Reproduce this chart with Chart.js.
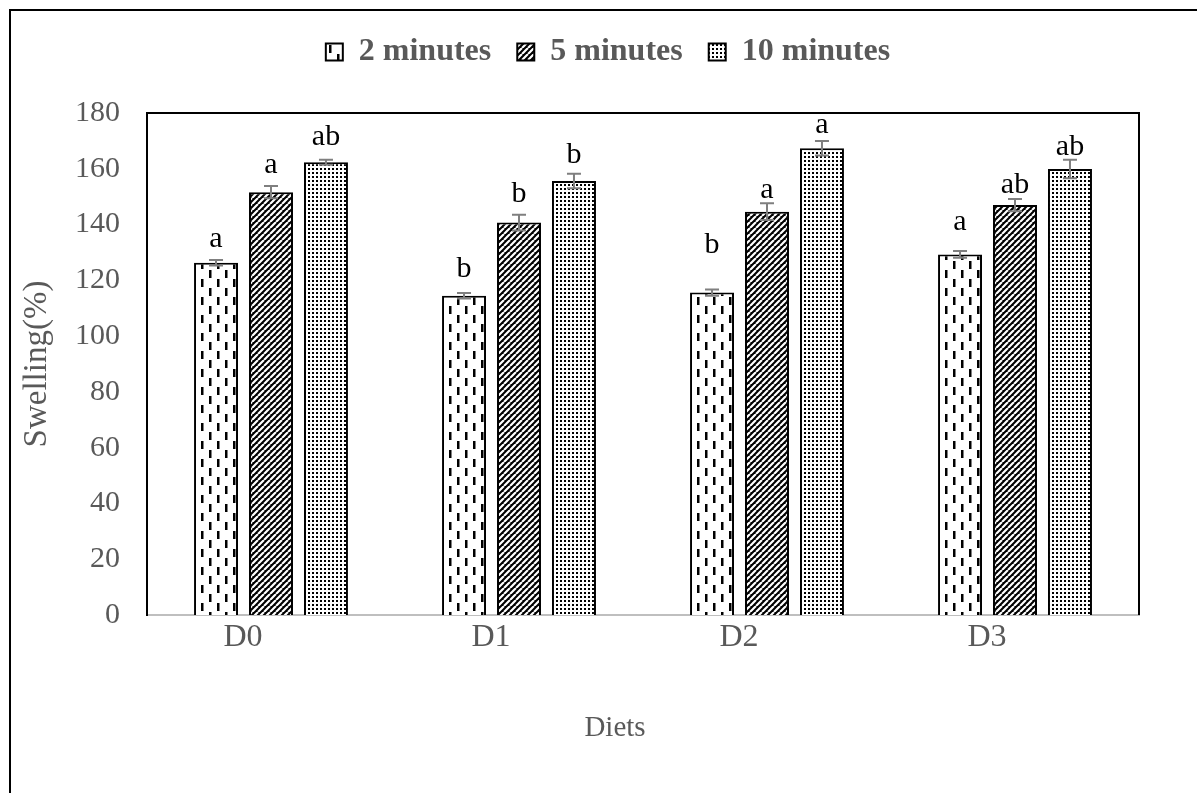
<!DOCTYPE html>
<html><head><meta charset="utf-8">
<script src="https://cdn.jsdelivr.net/npm/chart.js@4/dist/chart.umd.min.js"></script>
<style>html,body{margin:0;padding:0;background:#fff;}#wrap{width:1197px;height:793px;position:relative;}</style>
</head><body><div id="wrap"><canvas id="c" width="1197" height="793"></canvas></div>
<script>
const categories = ['D0', 'D1', 'D2', 'D3'];
const seriesNames = ['2 minutes', '5 minutes', '10 minutes'];
const values2 = [126.3, 114.5, 115.6, 129.3];
const values5 = [151.6, 140.7, 144.6, 147.0];
const values10 = [162.3, 155.6, 167.4, 159.9];
const err2 = [1.0, 1.0, 1.1, 1.2];
const err5 = [2.2, 2.8, 3.0, 2.2];
const err10 = [0.9, 2.6, 2.6, 3.3];
const letters2 = ['a', 'b', 'b', 'a'];
const letters5 = ['a', 'b', 'a', 'ab'];
const letters10 = ['ab', 'b', 'a', 'ab'];
const letterAt2 = [132.0, 121.3, 129.9, 138.1];
const letterAt5 = [158.6, 148.2, 149.5, 151.3];
const letterAt10 = [168.5, 161.9, 172.8, 165.0];
const yMin = 0, yMax = 180, yStep = 20;
const axisTitleX = 'Diets';
const axisTitleY = 'Swelling(%)';

const SERIF = '"Liberation Serif", "Times New Roman", serif';
Chart.defaults.font.family = SERIF;
const X_LABEL_SHIFT = -28;
const LEGEND_SHIFT = 22;

function makePattern(w, h, draw) {
  const c = document.createElement('canvas');
  c.width = w; c.height = h;
  const g = c.getContext('2d');
  g.fillStyle = '#fff'; g.fillRect(0, 0, w, h);
  draw(g, w, h);
  return document.createElement('canvas').getContext('2d').createPattern(c, 'repeat');
}
const patDash = makePattern(16, 18, (g) => {
  g.fillStyle = '#000';
  g.fillRect(1, 0, 2.5, 8);
  g.fillRect(9, 9, 2.5, 8);
});
const patDiag = makePattern(6, 6, (g, w, h) => {
  g.fillStyle = '#000'; g.fillRect(0, 0, w, h);
  g.strokeStyle = '#fff'; g.lineWidth = 2.2;
  g.beginPath();
  for (let k = -1; k <= 1; k++) { g.moveTo(k * w, h); g.lineTo(k * w + w, 0); }
  g.stroke();
});
const patDots = makePattern(4, 4, (g) => {
  g.fillStyle = '#000';
  g.fillRect(0, 0, 2, 2);
});

const legendFit = {
  id: 'legendFit',
  beforeLayout(chart) {
    const lg = chart.legend;
    if (lg && !lg.__fixed) {
      const orig = lg.fit.bind(lg);
      lg.fit = function () { orig(); this.height = 103; };
      lg.__fixed = true;
    }
  },
  afterLayout(chart) {
    const lg = chart.legend;
    if (lg) { lg.left += LEGEND_SHIFT; lg.right += LEGEND_SHIFT; }
  }
};

const errorBars = {
  id: 'errorBars',
  afterDatasetsDraw(chart) {
    const ctx = chart.ctx, y = chart.scales.y;
    chart.data.datasets.forEach((ds, i) => {
      const meta = chart.getDatasetMeta(i);
      meta.data.forEach((bar, j) => {
        const v = ds.data[j], e = ds.errors[j];
        const top = y.getPixelForValue(v + e), bot = y.getPixelForValue(v - e);
        ctx.save();
        ctx.strokeStyle = '#7f7f7f'; ctx.lineWidth = 2;
        ctx.beginPath();
        ctx.moveTo(bar.x, top); ctx.lineTo(bar.x, bot);
        ctx.moveTo(bar.x - 7, top); ctx.lineTo(bar.x + 7, top);
        ctx.moveTo(bar.x - 7, bot); ctx.lineTo(bar.x + 7, bot);
        ctx.stroke();
        ctx.fillStyle = '#000';
        ctx.font = '30px ' + SERIF;
        ctx.textAlign = 'center'; ctx.textBaseline = 'alphabetic';
        ctx.fillText(ds.letters[j], bar.x, y.getPixelForValue(ds.letterAt[j]));
        ctx.restore();
      });
    });
  }
};

const frame = {
  id: 'frame',
  afterDraw(chart) {
    const ctx = chart.ctx, a = chart.chartArea, xs = chart.scales.x;
    ctx.save();
    ctx.strokeStyle = '#000'; ctx.lineWidth = 2;
    ctx.beginPath();
    ctx.moveTo(a.left, a.bottom); ctx.lineTo(a.left, a.top); ctx.lineTo(a.right, a.top); ctx.lineTo(a.right, a.bottom);
    ctx.stroke();
    ctx.fillStyle = '#000';
    ctx.fillRect(9, 9, chart.width, 2);
    ctx.fillRect(9, 9, 2, chart.height);
    ctx.fillStyle = '#595959';
    ctx.font = '29px ' + SERIF;
    ctx.textAlign = 'center'; ctx.textBaseline = 'middle';
    ctx.fillText(axisTitleX, (xs.left + xs.right) / 2 + X_LABEL_SHIFT, xs.bottom - 65);
    ctx.restore();
  }
};

new Chart(document.getElementById('c'), {
  type: 'bar',
  data: {
    labels: categories,
    datasets: [
      { label: seriesNames[0], data: values2, errors: err2, letters: letters2, letterAt: letterAt2, backgroundColor: patDash },
      { label: seriesNames[1], data: values5, errors: err5, letters: letters5, letterAt: letterAt5, backgroundColor: patDiag },
      { label: seriesNames[2], data: values10, errors: err10, letters: letters10, letterAt: letterAt10, backgroundColor: patDots }
    ].map(d => Object.assign(d, { borderColor: '#000', borderWidth: 2, categoryPercentage: 0.665, barPercentage: 0.8 }))
  },
  options: {
    responsive: false,
    animation: false,
    devicePixelRatio: 1,
    layout: { padding: { left: 0, right: 25, top: 10, bottom: 0 } },
    plugins: {
      legend: {
        position: 'top',
        labels: {
          boxWidth: 17, boxHeight: 17, padding: 26, color: '#595959',
          font: { size: 32, weight: 'bold', family: SERIF }
        }
      },
      tooltip: { enabled: false }
    },
    scales: {
      x: {
        z: 1,
        grid: { display: false, drawTicks: false, tickLength: 0 },
        border: { display: true, color: '#bfbfbf', width: 2 },
        ticks: { color: '#595959', font: { size: 32 }, padding: 3, labelOffset: X_LABEL_SHIFT },
        title: { display: false },
        afterFit(s) { s.height = 178; }
      },
      y: {
        min: yMin, max: yMax,
        grid: { display: false, drawTicks: false, tickLength: 0 },
        border: { display: true, color: '#000', width: 2 },
        ticks: { stepSize: yStep, color: '#595959', font: { size: 30 }, padding: 27 },
        title: { display: true, text: axisTitleY, color: '#595959', font: { size: 33 }, padding: { top: 18, bottom: 0 } },
        afterFit(s) { s.width = 147; }
      },
      y2: {
        position: 'right',
        grid: { display: false, drawTicks: false },
        border: { display: false },
        ticks: { display: false },
        afterFit(s) { s.width = 33; }
      }
    }
  },
  plugins: [legendFit, errorBars, frame]
});
</script></body></html>
